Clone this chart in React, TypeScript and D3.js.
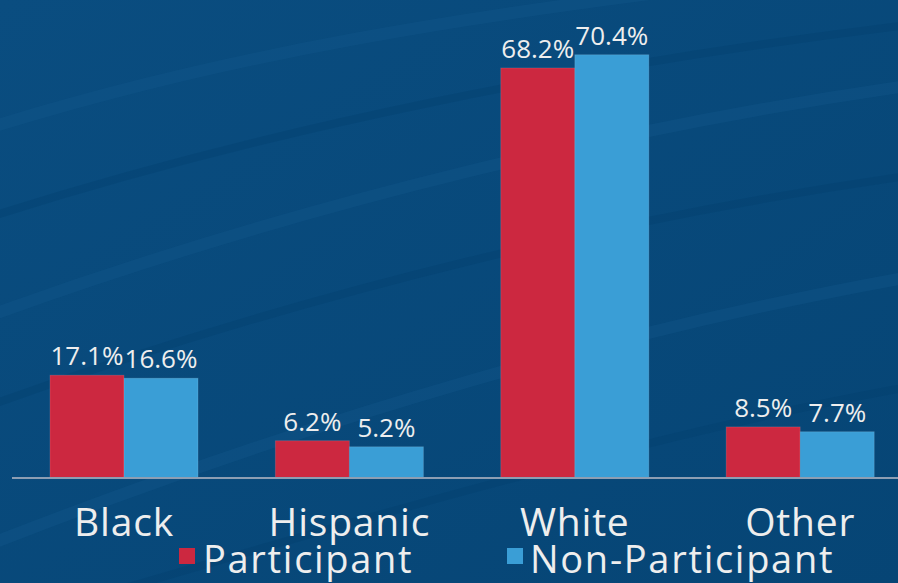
import React from "react";
import * as d3 from "d3";

const categories = ["Black", "Hispanic", "White", "Other"];
const participant = [17.1, 6.2, 68.2, 8.5];
const nonParticipant = [16.6, 5.2, 70.4, 7.7];
const seriesNames = ["Participant", "Non-Participant"];
const seriesColors = ["#cc2840", "#3a9ed6"];

const W = 898;
const H = 583;

export default function App() {
  const x = d3
    .scaleBand<string>()
    .domain(categories)
    .range([11.3, 912.9])
    .paddingInner(0.343)
    .paddingOuter(0.1715);
  const xs = d3.scaleBand<string>().domain(seriesNames).range([0, x.bandwidth()]);
  const y = d3.scaleLinear().domain([0, 80]).range([478, -3]);
  const series = [participant, nonParticipant];
  const font = "'Open Sans', sans-serif";

  const streaks = [
    "M-50,140 C200,60 450,10 950,-40",
    "M-50,230 C250,130 600,60 950,20",
    "M-50,330 C300,200 650,120 950,80",
    "M-50,420 C300,290 650,210 950,170",
    "M-50,560 C300,420 650,320 950,270",
    "M-50,640 C350,520 700,420 950,380",
  ];

  return (
    <svg
      width={W}
      height={H}
      style={{ position: "absolute", left: 0, top: 0, display: "block" }}
    >
      <defs>
        <linearGradient id="bg" x1="0" y1="0" x2="1" y2="1">
          <stop offset="0" stopColor="#0a4d80" />
          <stop offset="1" stopColor="#064575" />
        </linearGradient>
      </defs>
      <rect width={W} height={H} fill="url(#bg)" />
      {streaks.map((d, i) => (
        <path
          key={i}
          d={d}
          fill="none"
          stroke={i % 2 === 0 ? "#15588c" : "#03406d"}
          strokeWidth={i % 2 === 0 ? 12 : 8}
          opacity={0.35}
        />
      ))}
      {categories.map((c, ci) =>
        series.map((vals, si) => {
          const bx = (x(c) ?? 0) + (xs(seriesNames[si]) ?? 0);
          const bw = xs.bandwidth();
          const v = vals[ci];
          return (
            <g key={c + si}>
              <rect
                x={bx}
                y={y(v)}
                width={bw}
                height={y(0) - y(v)}
                fill={seriesColors[si]}
                stroke="rgba(255,255,255,0.12)"
                strokeWidth={1}
              />
              <text
                x={bx + bw / 2}
                y={y(v) - 10}
                textAnchor="middle"
                fill="#eeeeee"
                fontFamily={font}
                fontSize={26}
              >
                {v.toFixed(1)}%
              </text>
            </g>
          );
        })
      )}
      <line x1={12} x2={W} y1={y(0)} y2={y(0)} stroke="#8d9eb3" strokeWidth={2} />
      {categories.map((c) => (
        <text
          key={c}
          x={(x(c) ?? 0) + x.bandwidth() / 2}
          y={536}
          textAnchor="middle"
          fill="#eeeeee"
          fontFamily={font}
          fontSize={39}
          letterSpacing={0.8}
        >
          {c}
        </text>
      ))}
      <g>
        <rect x={179} y={548} width={16} height={16} fill={seriesColors[0]} />
        <text x={203} y={573} fill="#eeeeee" fontFamily={font} fontSize={38} letterSpacing={1.7}>
          {seriesNames[0]}
        </text>
        <rect x={507} y={548} width={16} height={16} fill={seriesColors[1]} />
        <text x={530} y={573} fill="#eeeeee" fontFamily={font} fontSize={38} letterSpacing={1.7}>
          {seriesNames[1]}
        </text>
      </g>
    </svg>
  );
}
